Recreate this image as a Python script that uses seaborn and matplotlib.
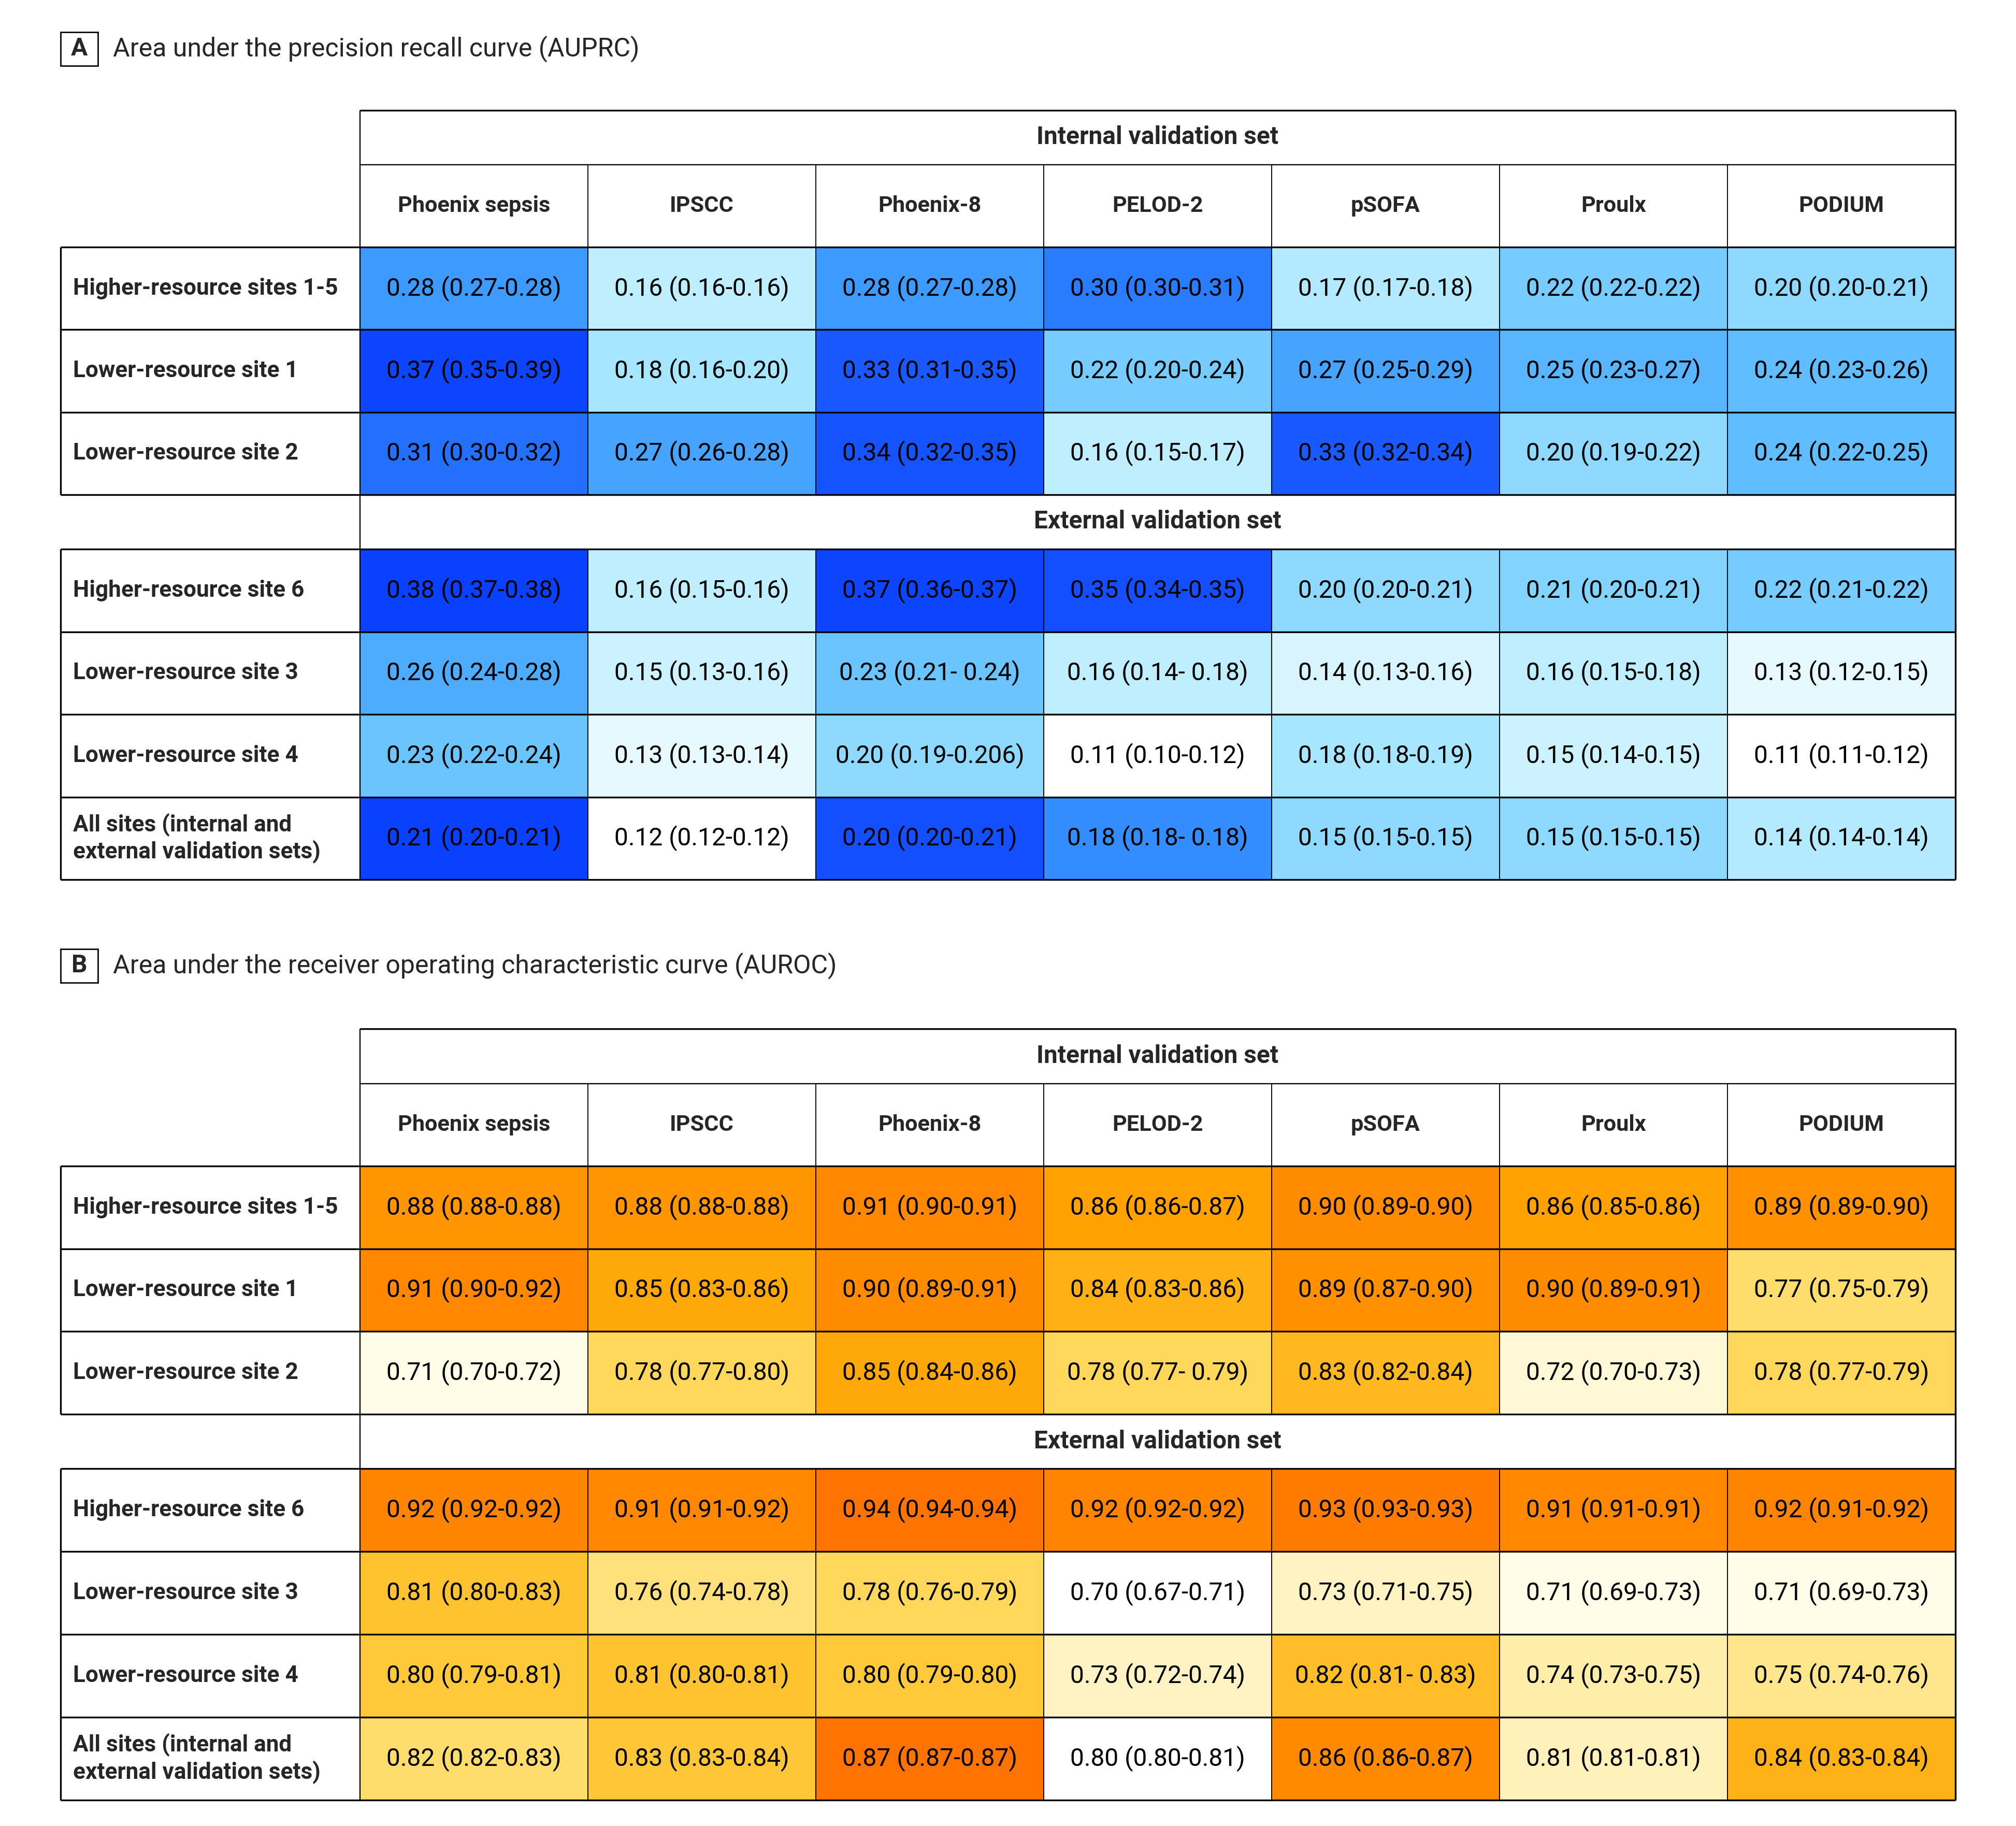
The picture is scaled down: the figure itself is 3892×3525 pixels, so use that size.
import numpy as np
import pandas as pd
import matplotlib
matplotlib.use("Agg")
import matplotlib.pyplot as plt
import seaborn as sns
from matplotlib.colors import LinearSegmentedColormap
from matplotlib.patches import Rectangle

sns.set_style("white")
plt.rcParams['font.family'] = ['Roboto', 'DejaVu Sans']

# ---- data ----
models = ["Phoenix sepsis", "IPSCC", "Phoenix-8", "PELOD-2", "pSOFA", "Proulx", "PODIUM"]
internal_sites = ["Higher-resource sites 1-5", "Lower-resource site 1", "Lower-resource site 2"]
external_sites = ["Higher-resource site 6", "Lower-resource site 3", "Lower-resource site 4",
                  "All sites (internal and\nexternal validation sets)"]

auprc_internal = [
    [0.28, 0.16, 0.28, 0.30, 0.17, 0.22, 0.20],
    [0.37, 0.18, 0.33, 0.22, 0.27, 0.25, 0.24],
    [0.31, 0.27, 0.34, 0.16, 0.33, 0.20, 0.24],
]
auprc_internal_ci = [
    ["0.27-0.28", "0.16-0.16", "0.27-0.28", "0.30-0.31", "0.17-0.18", "0.22-0.22", "0.20-0.21"],
    ["0.35-0.39", "0.16-0.20", "0.31-0.35", "0.20-0.24", "0.25-0.29", "0.23-0.27", "0.23-0.26"],
    ["0.30-0.32", "0.26-0.28", "0.32-0.35", "0.15-0.17", "0.32-0.34", "0.19-0.22", "0.22-0.25"],
]
auprc_external = [
    [0.38, 0.16, 0.37, 0.35, 0.20, 0.21, 0.22],
    [0.26, 0.15, 0.23, 0.16, 0.14, 0.16, 0.13],
    [0.23, 0.13, 0.20, 0.11, 0.18, 0.15, 0.11],
    [0.21, 0.12, 0.20, 0.18, 0.15, 0.15, 0.14],
]
auprc_external_ci = [
    ["0.37-0.38", "0.15-0.16", "0.36-0.37", "0.34-0.35", "0.20-0.21", "0.20-0.21", "0.21-0.22"],
    ["0.24-0.28", "0.13-0.16", "0.21- 0.24", "0.14- 0.18", "0.13-0.16", "0.15-0.18", "0.12-0.15"],
    ["0.22-0.24", "0.13-0.14", "0.19-0.206", "0.10-0.12", "0.18-0.19", "0.14-0.15", "0.11-0.12"],
    ["0.20-0.21", "0.12-0.12", "0.20-0.21", "0.18- 0.18", "0.15-0.15", "0.15-0.15", "0.14-0.14"],
]

auroc_internal = [
    [0.88, 0.88, 0.91, 0.86, 0.90, 0.86, 0.89],
    [0.91, 0.85, 0.90, 0.84, 0.89, 0.90, 0.77],
    [0.71, 0.78, 0.85, 0.78, 0.83, 0.72, 0.78],
]
auroc_internal_ci = [
    ["0.88-0.88", "0.88-0.88", "0.90-0.91", "0.86-0.87", "0.89-0.90", "0.85-0.86", "0.89-0.90"],
    ["0.90-0.92", "0.83-0.86", "0.89-0.91", "0.83-0.86", "0.87-0.90", "0.89-0.91", "0.75-0.79"],
    ["0.70-0.72", "0.77-0.80", "0.84-0.86", "0.77- 0.79", "0.82-0.84", "0.70-0.73", "0.77-0.79"],
]
auroc_external = [
    [0.92, 0.91, 0.94, 0.92, 0.93, 0.91, 0.92],
    [0.81, 0.76, 0.78, 0.70, 0.73, 0.71, 0.71],
    [0.80, 0.81, 0.80, 0.73, 0.82, 0.74, 0.75],
    [0.82, 0.83, 0.87, 0.80, 0.86, 0.81, 0.84],
]
auroc_external_ci = [
    ["0.92-0.92", "0.91-0.92", "0.94-0.94", "0.92-0.92", "0.93-0.93", "0.91-0.91", "0.91-0.92"],
    ["0.80-0.83", "0.74-0.78", "0.76-0.79", "0.67-0.71", "0.71-0.75", "0.69-0.73", "0.69-0.73"],
    ["0.79-0.81", "0.80-0.81", "0.79-0.80", "0.72-0.74", "0.81- 0.83", "0.73-0.75", "0.74-0.76"],
    ["0.82-0.83", "0.83-0.84", "0.87-0.87", "0.80-0.81", "0.86-0.87", "0.81-0.81", "0.83-0.84"],
]

# colour scales: (vmin, vmax) for site rows, separate one for the pooled row
auprc_range, auprc_all_range = (0.11, 0.38), (0.12, 0.21)
auroc_range, auroc_all_range = (0.70, 0.94), (0.80, 0.87)

blues = LinearSegmentedColormap.from_list("jama_blue", [
    (0.0, "#ffffff"), (0.12, "#d4f4ff"), (0.26, "#a6e6ff"), (0.45, "#68c4ff"),
    (0.63, "#3d9cff"), (0.72, "#2676ff"), (0.82, "#1858ff"), (1.0, "#0a40ff")])
oranges = LinearSegmentedColormap.from_list("jama_orange", [
    (0.0, "#ffffff"), (0.04, "#fffde8"), (0.125, "#fff3c4"), (0.21, "#ffe68c"),
    (0.33, "#ffd85c"), (0.42, "#ffc838"), (0.54, "#ffb820"), (0.67, "#ffa000"),
    (0.79, "#ff9000"), (0.92, "#ff8400"), (1.0, "#ff7400")])

# ---- layout (pixels) ----
W, H = 3892, 3525
X0, XL, X1 = 117, 695, 3775
FS = 11.5        # cell values, section headers
FS_ROW = 10.6    # row labels
FS_COL = 10.4    # model names
FS_TITLE = 12
THICK, THIN = 0.8, 0.45

fig = plt.figure(figsize=(W / 300, H / 300), dpi=300)


def px_axes(x0, y0, x1, y1):
    return fig.add_axes([x0 / W, 1 - y1 / H, (x1 - x0) / W, (y1 - y0) / H])


def labels(est, ci):
    return np.array([[f"{v:.2f} ({c})" for v, c in zip(r, cr)] for r, cr in zip(est, ci)])


def draw_block(ax, est, ci, rows, cmap, rng, all_rng=None, top=False):
    df = pd.DataFrame(est, index=rows, columns=models)
    annot = labels(est, ci)
    mask = np.zeros(df.shape, dtype=bool)
    if all_rng is not None:
        mask[-1, :] = True
    kw = dict(cmap=cmap, annot=annot, fmt="", cbar=False, xticklabels=models, yticklabels=rows,
              annot_kws={"fontsize": FS, "color": "black"}, ax=ax)
    sns.heatmap(df, mask=mask, vmin=rng[0], vmax=rng[1], **kw)
    if all_rng is not None:
        sns.heatmap(df, mask=~mask, vmin=all_rng[0], vmax=all_rng[1], **kw)
    # row labels left aligned in the label column
    pad = (XL - 141) / 300 * 72
    ax.tick_params(axis="y", length=0, pad=pad)
    for t in ax.get_yticklabels():
        t.set_rotation(0)
        t.set_ha("left")
        t.set_fontweight("bold")
        t.set_fontsize(FS_ROW)
    if top:
        ax.tick_params(axis="x", top=True, labeltop=True, bottom=False, labelbottom=False,
                       length=0, pad=79.5 / 300 * 72)
        for t in ax.get_xticklabels():
            t.set_rotation(0)
            t.set_va("center")
            t.set_fontweight("bold")
            t.set_fontsize(FS_COL)
    else:
        ax.tick_params(axis="x", bottom=False, labelbottom=False, length=0)
    ax.set_xlabel("")
    ax.set_ylabel("")


panels = [
    dict(letter="A", title="Area under the precision recall curve (AUPRC)",
         ty=94, y=(213, 318, 477, 955, 1060, 1698),
         est=(auprc_internal, auprc_external), ci=(auprc_internal_ci, auprc_external_ci),
         cmap=blues, rng=auprc_range, all_rng=auprc_all_range),
    dict(letter="B", title="Area under the receiver operating characteristic curve (AUROC)",
         ty=1864, y=(1986, 2092, 2251, 2730, 2835, 3475),
         est=(auroc_internal, auroc_external), ci=(auroc_internal_ci, auroc_external_ci),
         cmap=oranges, rng=auroc_range, all_rng=auroc_all_range),
]

for p in panels:
    yt, yh, yi0, yi1, ye0, ye1 = p["y"]
    ax_i = px_axes(XL, yi0, X1, yi1)
    draw_block(ax_i, p["est"][0], p["ci"][0], internal_sites, p["cmap"], p["rng"], top=True)
    ax_e = px_axes(XL, ye0, X1, ye1)
    draw_block(ax_e, p["est"][1], p["ci"][1], external_sites, p["cmap"], p["rng"],
               all_rng=p["all_rng"])

# overlay for the table rules and header text
ov = fig.add_axes([0, 0, 1, 1], zorder=10)
ov.set_xlim(0, W)
ov.set_ylim(H, 0)
ov.axis("off")
ov.patch.set_alpha(0)

ncol = len(models)
xs = np.linspace(XL, X1, ncol + 1)
for p in panels:
    yt, yh, yi0, yi1, ye0, ye1 = p["y"]
    # panel letter box and title
    ov.add_patch(Rectangle((117, p["ty"] - 32), 72, 65, fill=False, lw=THIN + 0.2, ec="black"))
    ov.text(153, p["ty"], p["letter"], ha="center", va="center", fontsize=FS, fontweight="bold")
    ov.text(218, p["ty"], p["title"], ha="left", va="center", fontsize=FS_TITLE)
    # header band
    ov.hlines(yt, XL, X1, color="black", lw=THICK)
    ov.hlines(yh, XL, X1, color="black", lw=THIN + 0.1)
    ov.vlines(xs[1:-1], yh, yi0, color="black", lw=THIN)
    ov.text((XL + X1) / 2, (yt + yh) / 2, "Internal validation set", ha="center", va="center",
            fontsize=FS, fontweight="bold")
    ov.text((XL + X1) / 2, (yi1 + ye0) / 2, "External validation set", ha="center", va="center",
            fontsize=FS, fontweight="bold")
    # data blocks
    for b0, b1, n in [(yi0, yi1, len(internal_sites)), (ye0, ye1, len(external_sites))]:
        ov.hlines(np.linspace(b0, b1, n + 1), X0, X1, color="black", lw=THICK)
        ov.vlines(xs[1:-1], b0, b1, color="black", lw=THIN)
        ov.vlines([X0], b0, b1, color="black", lw=THICK)
    ov.vlines([XL], yt, ye1, color="black", lw=THIN + 0.1)
    ov.vlines([X1], yt, ye1, color="black", lw=THICK)

fig.savefig("out.png", dpi=300, facecolor="white")
